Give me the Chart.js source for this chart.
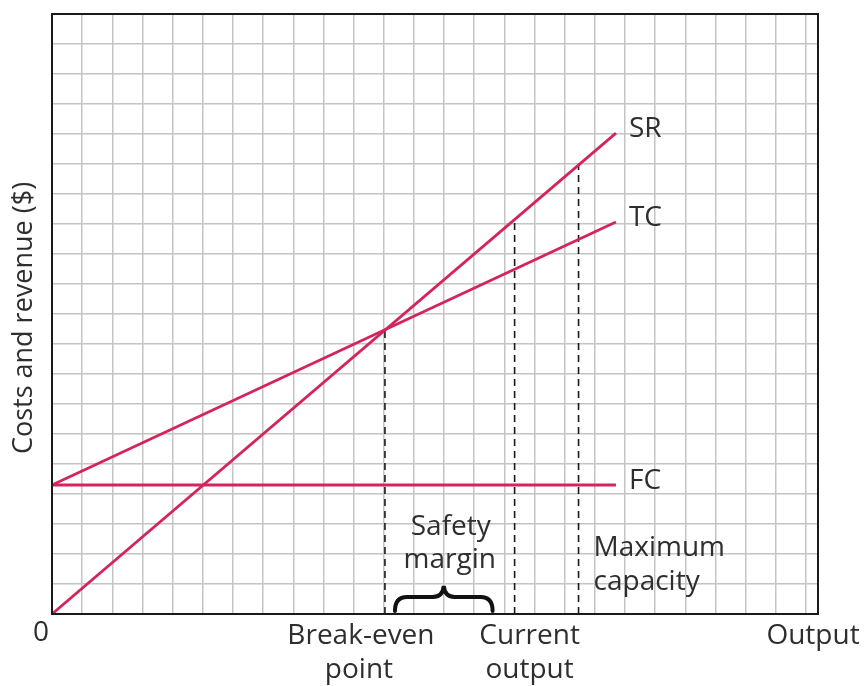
<!DOCTYPE html>
<html>
<head>
<meta charset="utf-8">
<script src="https://cdn.jsdelivr.net/npm/chart.js@4.4.1/dist/chart.umd.min.js"></script>
<style>
  body { margin: 0; background: #fff; }
  canvas { display: block; }
</style>
</head>
<body>
<canvas id="myChart" width="864" height="686"></canvas>
<script>
// Dane wykresu (jednostki = kratki siatki)
const lineX = [0, 18.7];
const fcValues = [4.3, 4.3];
const tcValues = [4.3, 13.07];
const srValues = [0, 16.03];
const lineNames = ['SR', 'TC', 'FC'];

// Punkt progu rentowności, bieżąca produkcja, maksymalna zdolność
const markerX = [11.04, 15.34, 17.46];
const markerTop = [9.46, 13.15, 14.96];
const markerLabels = [['Break-even', 'point'], ['Current', 'output'], ['Maximum', 'capacity']];

const xMax = 25.4;
const yMax = 20;
const xGrid = Array.from({ length: 26 }, (_, i) => i);
const yGrid = Array.from({ length: 21 }, (_, i) => i);

const red = '#d4245c';
const textColor = '#2e2e2e';
const font = '"Open Sans", sans-serif';

const pts = (xs, ys) => xs.map((x, i) => ({ x: x, y: ys[i] }));

const datasets = [
  { data: pts(lineX, srValues), borderColor: red, borderWidth: 2.8 },
  { data: pts(lineX, tcValues), borderColor: red, borderWidth: 2.8 },
  { data: pts(lineX, fcValues), borderColor: red, borderWidth: 2.8 }
];
markerX.forEach((x, i) => {
  datasets.push({
    data: [{ x: x, y: 0 }, { x: x, y: markerTop[i] }],
    borderColor: '#1a1a1a',
    borderWidth: 1.6,
    borderDash: [7, 5]
  });
});

// Napisy, klamra i ramka
const annotations = {
  id: 'annotations',
  afterDraw(chart) {
    const { ctx, chartArea, scales } = chart;
    const xs = scales.x, ys = scales.y;
    ctx.save();

    ctx.strokeStyle = '#1a1a1a';
    ctx.lineWidth = 2;
    ctx.strokeRect(chartArea.left, chartArea.top, chartArea.right - chartArea.left, chartArea.bottom - chartArea.top);

    ctx.fillStyle = textColor;
    ctx.font = '28px ' + font;
    ctx.textBaseline = 'middle';

    // etykiety linii
    const ends = [srValues[1], tcValues[1], fcValues[1]];
    ctx.textAlign = 'left';
    lineNames.forEach((name, i) => {
      ctx.fillText(name, xs.getPixelForValue(lineX[1]) + 13, ys.getPixelForValue(ends[i]) - 4);
    });

    // oś X
    const base = chartArea.bottom;
    ctx.textAlign = 'center';
    ctx.fillText('0', chartArea.left - 11, base + 19);
    const be = xs.getPixelForValue(markerX[0]);
    const cur = xs.getPixelForValue(markerX[1]);
    const mx = xs.getPixelForValue(markerX[2]);
    ctx.fillText(markerLabels[0][0], be - 24, base + 22);
    ctx.fillText(markerLabels[0][1], be - 26, base + 56);
    ctx.fillText(markerLabels[1][0], cur + 15, base + 22);
    ctx.fillText(markerLabels[1][1], cur + 15, base + 56);
    ctx.fillText('Output', chartArea.right - 5, base + 22);

    // margines bezpieczeństwa
    const mid = (be + cur) / 2;
    ctx.fillText('Safety', mid + 1, base - 87);
    ctx.fillText('margin', mid, base - 54);

    ctx.textAlign = 'left';
    ctx.fillText(markerLabels[2][0], mx + 15, base - 66);
    ctx.fillText(markerLabels[2][1], mx + 15, base - 32);

    // klamra
    const l = be + 10, r = cur - 22, c = (l + r) / 2;
    const yb = base - 3, yh = base - 17, yt = base - 28;
    ctx.strokeStyle = '#111';
    ctx.lineWidth = 4;
    ctx.lineCap = 'round';
    ctx.beginPath();
    ctx.moveTo(l, yb);
    ctx.quadraticCurveTo(l, yh, l + 12, yh);
    ctx.lineTo(c - 11, yh);
    ctx.quadraticCurveTo(c - 1, yh, c, yt);
    ctx.quadraticCurveTo(c + 1, yh, c + 11, yh);
    ctx.lineTo(r - 12, yh);
    ctx.quadraticCurveTo(r, yh, r, yb);
    ctx.stroke();

    // tytuł osi Y
    ctx.fillStyle = textColor;
    ctx.font = '27px ' + font;
    ctx.translate(24, (chartArea.top + chartArea.bottom) / 2 + 4);
    ctx.rotate(-Math.PI / 2);
    ctx.textAlign = 'center';
    ctx.fillText('Costs and revenue ($)', 0, 0);
    ctx.restore();
  }
};

const canvas = document.getElementById('myChart');
const chart = new Chart(canvas, {
  type: 'scatter',
  data: { datasets: datasets.map(d => Object.assign({ showLine: true, pointRadius: 0, fill: false, tension: 0 }, d)) },
  options: {
    responsive: false,
    animation: false,
    layout: { padding: { left: 52, top: 14, right: 46, bottom: 72 } },
    plugins: { legend: { display: false }, tooltip: { enabled: false } },
    scales: {
      x: {
        type: 'linear', min: 0, max: xMax,
        afterBuildTicks: axis => { axis.ticks = xGrid.map(v => ({ value: v })); },
        ticks: { display: false },
        grid: { color: '#c4c4c4', lineWidth: 1.5, drawTicks: false },
        border: { display: false }
      },
      y: {
        type: 'linear', min: 0, max: yMax,
        afterBuildTicks: axis => { axis.ticks = yGrid.map(v => ({ value: v })); },
        ticks: { display: false },
        grid: { color: '#c4c4c4', lineWidth: 1.5, drawTicks: false },
        border: { display: false }
      }
    }
  },
  plugins: [annotations]
});
</script>
</body>
</html>
